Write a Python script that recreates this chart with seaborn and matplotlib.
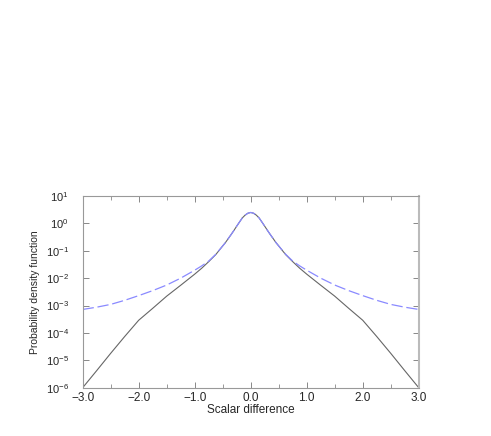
import matplotlib
matplotlib.use("Agg")
import matplotlib.pyplot as plt
import matplotlib.ticker as mticker
import numpy as np
import pandas as pd
import seaborn as sns

# values (symmetric about 0)
scalar_diff = [-3.0, -2.75, -2.5, -2.25, -2.0, -1.75, -1.5, -1.25, -1.0, -0.875,
               -0.75, -0.625, -0.5, -0.45, -0.4, -0.35, -0.3, -0.25, -0.2, -0.15,
               -0.1, -0.05, 0.0,
               0.05, 0.1, 0.15, 0.2, 0.25, 0.3, 0.35, 0.4, 0.45, 0.5, 0.625, 0.75, 0.875,
               1.0, 1.25, 1.5, 1.75, 2.0, 2.25, 2.5, 2.75, 3.0]

pdf_solid = [1.0e-6, 4.2e-6, 1.8e-5, 7.4e-5, 2.9e-4, 7.9e-4, 2.2e-3, 5.5e-3, 1.4e-2, 2.3e-2,
             4.0e-2, 7.2e-2, 0.15, 0.20, 0.28, 0.39, 0.55, 0.79, 1.12, 1.58,
             2.0, 2.35, 2.5,
             2.35, 2.0, 1.58, 1.12, 0.79, 0.55, 0.39, 0.28, 0.20, 0.15, 7.2e-2, 4.0e-2, 2.3e-2,
             1.4e-2, 5.5e-3, 2.2e-3, 7.9e-4, 2.9e-4, 7.4e-5, 1.8e-5, 4.2e-6, 1.0e-6]

pdf_dashed = [7.2e-4, 8.7e-4, 1.1e-3, 1.55e-3, 2.3e-3, 3.5e-3, 5.6e-3, 1.0e-2, 1.95e-2, 2.8e-2,
              4.2e-2, 7.4e-2, 0.15, 0.20, 0.28, 0.39, 0.55, 0.79, 1.12, 1.58,
              2.0, 2.35, 2.5,
              2.35, 2.0, 1.58, 1.12, 0.79, 0.55, 0.39, 0.28, 0.20, 0.15, 7.4e-2, 4.2e-2, 2.8e-2,
              1.95e-2, 1.0e-2, 5.6e-3, 3.5e-3, 2.3e-3, 1.55e-3, 1.1e-3, 8.7e-4, 7.2e-4]

x_ticks = [-3.0, -2.0, -1.0, 0.0, 1.0, 2.0, 3.0]
x_ticklabels = ["\u22123.0", "\u22122.0", "\u22121.0", "0.0", "1.0", "2.0", "3.0"]

sns.set_style("ticks")
plt.rcParams["font.family"] = ["Liberation Sans", "DejaVu Sans"]
plt.rcParams["mathtext.fontset"] = "custom"
plt.rcParams["mathtext.rm"] = "Liberation Sans"
plt.rcParams["mathtext.it"] = "Liberation Sans"

df = pd.DataFrame({"x": scalar_diff, "solid": pdf_solid, "dashed": pdf_dashed})

fig = plt.figure(figsize=(4.91, 4.36), dpi=100)
ax = fig.add_axes([0.1684, 0.1108, 0.6844, 0.4397])

sns.lineplot(data=df, x="x", y="solid", ax=ax, color="#666666", lw=0.8)
sns.lineplot(data=df, x="x", y="dashed", ax=ax, color="#8a8aff", lw=0.9,
             linestyle=(0, (9, 3)))

ax.set_yscale("log")
ax.set_xlim(-3.0, 3.0)
ax.set_ylim(1e-6, 1e1)
ax.set_xticks(x_ticks)
ax.set_xticklabels(x_ticklabels)
ax.xaxis.set_minor_locator(mticker.MultipleLocator(0.5))
ax.yaxis.set_major_locator(mticker.LogLocator(base=10, numticks=10))
ax.yaxis.set_minor_locator(mticker.NullLocator())

for s in ax.spines.values():
    s.set_color("#999999")
    s.set_linewidth(0.8)
ax.spines["right"].set_linewidth(1.5)
ax.spines["right"].set_color("#bbbbbb")

ax.tick_params(which="both", direction="in", top=True, right=True, color="#888888")
ax.tick_params(which="major", length=4, width=0.7)
ax.tick_params(which="minor", length=3, width=0.6)
ax.tick_params(axis="x", labelsize=8.5, pad=3)
ax.tick_params(axis="y", labelsize=8, pad=10)

ax.set_xlabel("Scalar difference", fontsize=8.5, labelpad=0)
ax.set_ylabel("Probability density function", fontsize=7.5, labelpad=4,
              family=["Liberation Sans Narrow", "Liberation Sans"])

fig.savefig("out.png", dpi=100)
